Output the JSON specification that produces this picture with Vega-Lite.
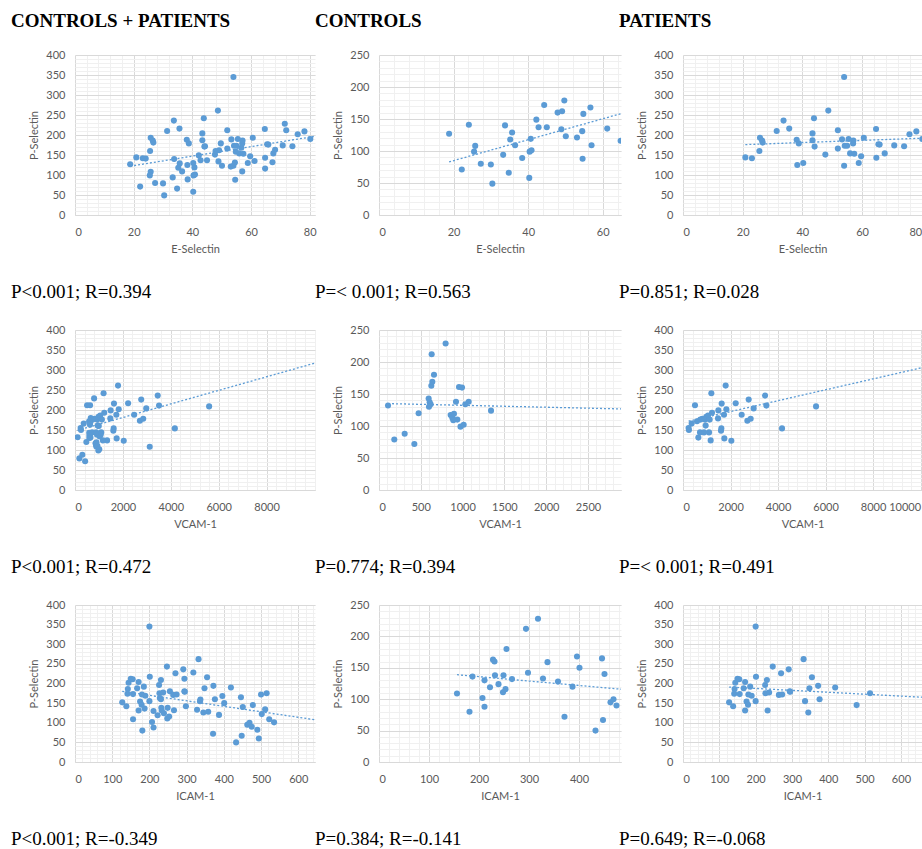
{
"$schema":"https://vega.github.io/schema/vega-lite/v6.json",
"background":"white",
"padding":{"left":11,"top":12,"right":0,"bottom":0},
"datasets":{
"e":[
{"g":"C","x":18.8,"y":127},{"g":"C","x":22.2,"y":71},{"g":"C","x":24.1,"y":141},{"g":"C","x":25.8,"y":108},{"g":"C","x":25.5,"y":99},{"g":"C","x":27.3,"y":80},{"g":"C","x":30.0,"y":79},{"g":"C","x":30.4,"y":49},{"g":"C","x":33.3,"y":94},{"g":"C","x":33.8,"y":140},{"g":"C","x":34.8,"y":66},{"g":"C","x":35.2,"y":118},{"g":"C","x":35.7,"y":129},{"g":"C","x":36.5,"y":109},{"g":"C","x":38.4,"y":89},{"g":"C","x":40.3,"y":58},{"g":"C","x":40.4,"y":99},{"g":"C","x":40.9,"y":101},{"g":"C","x":40.7,"y":119},{"g":"C","x":42.2,"y":149},{"g":"C","x":42.8,"y":137},{"g":"C","x":44.3,"y":172},{"g":"C","x":45.0,"y":137},{"g":"C","x":47.9,"y":160},{"g":"C","x":49.1,"y":162},{"g":"C","x":48.9,"y":134},{"g":"C","x":49.7,"y":179},{"g":"C","x":50.1,"y":123},{"g":"C","x":53.1,"y":121},{"g":"C","x":54.5,"y":131},{"g":"C","x":54.6,"y":88},{"g":"C","x":54.8,"y":158},{"g":"C","x":56.7,"y":168},{"g":"C","x":57.0,"y":109},{"g":"C","x":61.2,"y":135},{"g":"C","x":64.8,"y":116},{"g":"C","x":67.3,"y":132},{"g":"C","x":68.2,"y":163},{"g":"C","x":71.5,"y":228},{"g":"C","x":72.0,"y":212},
{"g":"P","x":20.9,"y":144},{"g":"P","x":23.1,"y":142},{"g":"P","x":25.6,"y":160},{"g":"P","x":25.8,"y":193},{"g":"P","x":26.5,"y":186},{"g":"P","x":26.7,"y":181},{"g":"P","x":31.4,"y":210},{"g":"P","x":33.7,"y":236},{"g":"P","x":35.6,"y":216},{"g":"P","x":38.1,"y":188},{"g":"P","x":38.8,"y":179},{"g":"P","x":38.3,"y":125},{"g":"P","x":40.3,"y":130},{"g":"P","x":43.4,"y":204},{"g":"P","x":43.4,"y":187},{"g":"P","x":43.9,"y":242},{"g":"P","x":44.1,"y":171},{"g":"P","x":47.7,"y":151},{"g":"P","x":48.7,"y":261},{"g":"P","x":51.9,"y":212},{"g":"P","x":51.9,"y":166},{"g":"P","x":53.3,"y":189},{"g":"P","x":54.0,"y":345},{"g":"P","x":54.0,"y":123},{"g":"P","x":54.2,"y":173},{"g":"P","x":55.0,"y":173},{"g":"P","x":55.5,"y":190},{"g":"P","x":56.0,"y":154},{"g":"P","x":57.0,"y":179},{"g":"P","x":57.1,"y":186},{"g":"P","x":57.4,"y":153},{"g":"P","x":58.9,"y":130},{"g":"P","x":59.7,"y":147},{"g":"P","x":60.6,"y":193},{"g":"P","x":64.7,"y":215},{"g":"P","x":64.8,"y":143},{"g":"P","x":65.5,"y":177},{"g":"P","x":65.9,"y":176},{"g":"P","x":67.6,"y":154},{"g":"P","x":70.8,"y":174},{"g":"P","x":74.1,"y":172},{"g":"P","x":75.9,"y":202},{"g":"P","x":78.2,"y":209},{"g":"P","x":80.2,"y":190}
],
"v":[
{"g":"C","x":108,"y":132},{"g":"C","x":183,"y":79},{"g":"C","x":307,"y":88},{"g":"C","x":423,"y":72},{"g":"C","x":474,"y":120},{"g":"C","x":594,"y":143},{"g":"C","x":606,"y":137},{"g":"C","x":618,"y":134},{"g":"C","x":598,"y":130},{"g":"C","x":626,"y":163},{"g":"C","x":638,"y":169},{"g":"C","x":658,"y":180},{"g":"C","x":630,"y":212},{"g":"C","x":797,"y":229},{"g":"C","x":857,"y":117},{"g":"C","x":877,"y":113},{"g":"C","x":889,"y":109},{"g":"C","x":897,"y":119},{"g":"C","x":937,"y":110},{"g":"C","x":921,"y":138},{"g":"C","x":957,"y":161},{"g":"C","x":993,"y":160},{"g":"C","x":975,"y":99},{"g":"C","x":1013,"y":102},{"g":"C","x":1033,"y":134},{"g":"C","x":1073,"y":138},{"g":"C","x":1340,"y":124},{"g":"C","x":3120,"y":108},
{"g":"P","x":235,"y":155},{"g":"P","x":250,"y":150},{"g":"P","x":365,"y":166},{"g":"P","x":505,"y":212},{"g":"P","x":590,"y":172},{"g":"P","x":646,"y":131},{"g":"P","x":716,"y":144},{"g":"P","x":730,"y":176},{"g":"P","x":814,"y":178},{"g":"P","x":884,"y":144},{"g":"P","x":926,"y":176},{"g":"P","x":954,"y":161},{"g":"P","x":982,"y":183},{"g":"P","x":1053,"y":186},{"g":"P","x":1095,"y":144},{"g":"P","x":1123,"y":176},{"g":"P","x":1165,"y":124},{"g":"P","x":1193,"y":242},{"g":"P","x":1221,"y":193},{"g":"P","x":1474,"y":179},{"g":"P","x":1488,"y":199},{"g":"P","x":1600,"y":148},{"g":"P","x":1614,"y":154},{"g":"P","x":1628,"y":216},{"g":"P","x":1726,"y":188},{"g":"P","x":1740,"y":129},{"g":"P","x":1796,"y":261},{"g":"P","x":1825,"y":202},{"g":"P","x":2035,"y":123},{"g":"P","x":2218,"y":217},{"g":"P","x":2470,"y":188},{"g":"P","x":2709,"y":173},{"g":"P","x":2765,"y":226},{"g":"P","x":2849,"y":178},{"g":"P","x":2975,"y":204},{"g":"P","x":3453,"y":236},{"g":"P","x":3509,"y":211},{"g":"P","x":4168,"y":154},{"g":"P","x":5600,"y":209}
],
"i":[
{"g":"C","x":156,"y":109},{"g":"C","x":181,"y":80},{"g":"C","x":187,"y":136},{"g":"C","x":207,"y":102},{"g":"C","x":211,"y":88},{"g":"C","x":211,"y":130},{"g":"C","x":222,"y":119},{"g":"C","x":228,"y":163},{"g":"C","x":231,"y":160},{"g":"C","x":232,"y":138},{"g":"C","x":239,"y":124},{"g":"C","x":248,"y":111},{"g":"C","x":249,"y":138},{"g":"C","x":253,"y":116},{"g":"C","x":255,"y":180},{"g":"C","x":266,"y":132},{"g":"C","x":294,"y":212},{"g":"C","x":298,"y":142},{"g":"C","x":318,"y":228},{"g":"C","x":328,"y":133},{"g":"C","x":337,"y":159},{"g":"C","x":358,"y":128},{"g":"C","x":371,"y":72},{"g":"C","x":387,"y":120},{"g":"C","x":396,"y":168},{"g":"C","x":401,"y":150},{"g":"C","x":433,"y":50},{"g":"C","x":446,"y":165},{"g":"C","x":448,"y":67},{"g":"C","x":451,"y":140},{"g":"C","x":463,"y":95},{"g":"C","x":469,"y":100},{"g":"C","x":475,"y":90},{"g":"C","x":490,"y":82},{"g":"C","x":494,"y":60},{"g":"C","x":500,"y":172},{"g":"C","x":502,"y":122},{"g":"C","x":511,"y":134},{"g":"C","x":522,"y":109},{"g":"C","x":535,"y":101},
{"g":"P","x":127,"y":152},{"g":"P","x":138,"y":142},{"g":"P","x":141,"y":174},{"g":"P","x":142,"y":186},{"g":"P","x":144,"y":202},{"g":"P","x":150,"y":212},{"g":"P","x":155,"y":211},{"g":"P","x":156,"y":173},{"g":"P","x":167,"y":188},{"g":"P","x":171,"y":204},{"g":"P","x":171,"y":131},{"g":"P","x":175,"y":154},{"g":"P","x":179,"y":146},{"g":"P","x":180,"y":172},{"g":"P","x":185,"y":192},{"g":"P","x":189,"y":169},{"g":"P","x":200,"y":345},{"g":"P","x":201,"y":217},{"g":"P","x":200,"y":155},{"g":"P","x":226,"y":196},{"g":"P","x":231,"y":209},{"g":"P","x":227,"y":175},{"g":"P","x":233,"y":131},{"g":"P","x":237,"y":177},{"g":"P","x":247,"y":243},{"g":"P","x":264,"y":171},{"g":"P","x":273,"y":172},{"g":"P","x":270,"y":226},{"g":"P","x":291,"y":236},{"g":"P","x":294,"y":180},{"g":"P","x":295,"y":179},{"g":"P","x":332,"y":262},{"g":"P","x":336,"y":155},{"g":"P","x":345,"y":126},{"g":"P","x":348,"y":188},{"g":"P","x":355,"y":216},{"g":"P","x":372,"y":194},{"g":"P","x":376,"y":160},{"g":"P","x":419,"y":190},{"g":"P","x":478,"y":145},{"g":"P","x":515,"y":175}
],
"t":[
{"p":"e_all","x":18.8,"y":122},{"p":"e_all","x":82,"y":197},
{"p":"e_C","x":18.8,"y":83},{"p":"e_C","x":72,"y":170},
{"p":"e_P","x":20.9,"y":176},{"p":"e_P","x":80.2,"y":192},
{"p":"v_all","x":100,"y":149},{"p":"v_all","x":10000,"y":317},
{"p":"v_C","x":108,"y":135},{"p":"v_C","x":3120,"y":126},
{"p":"v_P","x":235,"y":172},{"p":"v_P","x":10000,"y":305},
{"p":"i_all","x":127,"y":180},{"p":"i_all","x":700,"y":100},
{"p":"i_C","x":156,"y":139},{"p":"i_C","x":540,"y":112},
{"p":"i_P","x":127,"y":191},{"p":"i_P","x":700,"y":163}
]
},
"config":{
"view":{"stroke":null},
"font":"Lato",
"axis":{"labelFont":"Lato","labelFontSize":11,"labelColor":"#595959","titleFont":"Lato","titleFontSize":11,"titleFontWeight":"normal","titleColor":"#595959","ticks":false,"gridColor":"#d9d9d9","gridWidth":1,"domainColor":"#d9d9d9","labelPadding":10},
"axisX":{"labelPadding":11,"titlePadding":6},
"axisY":{"domain":false,"titlePadding":6}
},
"spacing":-2,
"hconcat":[
{
"title":{"text":"CONTROLS + PATIENTS","orient":"top","anchor":"start","frame":"group","dx":-64,"offset":18,"font":"Liberation Serif","fontSize":19,"fontWeight":"bold","color":"#000000"},
"spacing":115,"bounds":"flush",
"vconcat":[
{"width":240,"height":160,
"title":{"text":"P<0.001; R=0.394","orient":"bottom","anchor":"start","frame":"group","dx":-64,"offset":29,"font":"Liberation Serif","fontSize":19,"fontWeight":"normal","color":"#000000"},
"layer":[
{"data":{"name":"e"},"mark":{"type":"point","opacity":0,"clip":true},"encoding":{
"x":{"field":"x","type":"quantitative","scale":{"domain":[0,81.8],"nice":false,"zero":false},"axis":{"orient":"top","values":[0,4,8,12,16,20,24,28,32,36,40,44,48,52,56,60,64,68,72,76,80],"labels":false,"domain":false,"ticks":false,"title":null,"grid":true,"gridColor":"#f0f0f0"}},
"y":{"field":"y","type":"quantitative","scale":{"domain":[0,400],"nice":false},"axis":{"orient":"right","values":[0,10,20,30,40,50,60,70,80,90,100,110,120,130,140,150,160,170,180,190,200,210,220,230,240,250,260,270,280,290,300,310,320,330,340,350,360,370,380,390,400],"labels":false,"domain":false,"ticks":false,"title":null,"grid":true,"gridColor":"#f0f0f0"}}}},
{"data":{"name":"e"},"mark":{"type":"circle","size":37,"color":"#5b9bd5","opacity":1,"clip":true},"encoding":{
"x":{"field":"x","type":"quantitative","scale":{"domain":[0,81.8],"nice":false,"zero":false},"axis":{"orient":"bottom","values":[0,20,40,60,80],"title":"E-Selectin","grid":true}},
"y":{"field":"y","type":"quantitative","scale":{"domain":[0,400],"nice":false},"axis":{"orient":"left","values":[0,50,100,150,200,250,300,350,400],"title":"P-Selectin","grid":true}}}},
{"data":{"name":"t"},"transform":[{"filter":"datum.p==='e_all'"}],"mark":{"type":"line","color":"#5b9bd5","strokeDash":[2,2],"strokeWidth":1.3,"clip":true},"encoding":{
"x":{"field":"x","type":"quantitative","scale":{"domain":[0,81.8],"nice":false,"zero":false},"axis":null},
"y":{"field":"y","type":"quantitative","scale":{"domain":[0,400],"nice":false},"axis":null}}}
]},
{"width":240,"height":160,
"title":{"text":"P<0.001; R=0.472","orient":"bottom","anchor":"start","frame":"group","dx":-64,"offset":29,"font":"Liberation Serif","fontSize":19,"fontWeight":"normal","color":"#000000"},
"layer":[
{"data":{"name":"v"},"mark":{"type":"point","opacity":0,"clip":true},"encoding":{
"x":{"field":"x","type":"quantitative","scale":{"domain":[0,10020],"nice":false,"zero":false},"axis":{"orient":"top","values":[0,400,800,1200,1600,2000,2400,2800,3200,3600,4000,4400,4800,5200,5600,6000,6400,6800,7200,7600,8000,8400,8800,9200,9600,10000],"labels":false,"domain":false,"ticks":false,"title":null,"grid":true,"gridColor":"#f0f0f0"}},
"y":{"field":"y","type":"quantitative","scale":{"domain":[0,400],"nice":false},"axis":{"orient":"right","values":[0,10,20,30,40,50,60,70,80,90,100,110,120,130,140,150,160,170,180,190,200,210,220,230,240,250,260,270,280,290,300,310,320,330,340,350,360,370,380,390,400],"labels":false,"domain":false,"ticks":false,"title":null,"grid":true,"gridColor":"#f0f0f0"}}}},
{"data":{"name":"v"},"mark":{"type":"circle","size":37,"color":"#5b9bd5","opacity":1,"clip":true},"encoding":{
"x":{"field":"x","type":"quantitative","scale":{"domain":[0,10020],"nice":false,"zero":false},"axis":{"orient":"bottom","values":[0,2000,4000,6000,8000],"title":"VCAM-1","grid":true,"format":"d"}},
"y":{"field":"y","type":"quantitative","scale":{"domain":[0,400],"nice":false},"axis":{"orient":"left","values":[0,50,100,150,200,250,300,350,400],"title":"P-Selectin","grid":true}}}},
{"data":{"name":"t"},"transform":[{"filter":"datum.p==='v_all'"}],"mark":{"type":"line","color":"#5b9bd5","strokeDash":[2,2],"strokeWidth":1.3,"clip":true},"encoding":{
"x":{"field":"x","type":"quantitative","scale":{"domain":[0,10020],"nice":false,"zero":false},"axis":null},
"y":{"field":"y","type":"quantitative","scale":{"domain":[0,400],"nice":false},"axis":null}}}
]},
{"width":240,"height":157,
"title":{"text":"P<0.001; R=-0.349","orient":"bottom","anchor":"start","frame":"group","dx":-64,"offset":29,"font":"Liberation Serif","fontSize":19,"fontWeight":"normal","color":"#000000"},
"layer":[
{"data":{"name":"i"},"mark":{"type":"point","opacity":0,"clip":true},"encoding":{
"x":{"field":"x","type":"quantitative","scale":{"domain":[0,645],"nice":false,"zero":false},"axis":{"orient":"top","values":[0,20,40,60,80,100,120,140,160,180,200,220,240,260,280,300,320,340,360,380,400,420,440,460,480,500,520,540,560,580,600,620,640],"labels":false,"domain":false,"ticks":false,"title":null,"grid":true,"gridColor":"#f0f0f0"}},
"y":{"field":"y","type":"quantitative","scale":{"domain":[0,400],"nice":false},"axis":{"orient":"right","values":[0,10,20,30,40,50,60,70,80,90,100,110,120,130,140,150,160,170,180,190,200,210,220,230,240,250,260,270,280,290,300,310,320,330,340,350,360,370,380,390,400],"labels":false,"domain":false,"ticks":false,"title":null,"grid":true,"gridColor":"#f0f0f0"}}}},
{"data":{"name":"i"},"mark":{"type":"circle","size":37,"color":"#5b9bd5","opacity":1,"clip":true},"encoding":{
"x":{"field":"x","type":"quantitative","scale":{"domain":[0,645],"nice":false,"zero":false},"axis":{"orient":"bottom","values":[0,100,200,300,400,500,600],"title":"ICAM-1","grid":true}},
"y":{"field":"y","type":"quantitative","scale":{"domain":[0,400],"nice":false},"axis":{"orient":"left","values":[0,50,100,150,200,250,300,350,400],"title":"P-Selectin","grid":true}}}},
{"data":{"name":"t"},"transform":[{"filter":"datum.p==='i_all'"}],"mark":{"type":"line","color":"#5b9bd5","strokeDash":[2,2],"strokeWidth":1.3,"clip":true},"encoding":{
"x":{"field":"x","type":"quantitative","scale":{"domain":[0,645],"nice":false,"zero":false},"axis":null},
"y":{"field":"y","type":"quantitative","scale":{"domain":[0,400],"nice":false},"axis":null}}}
]}
]},
{
"title":{"text":"CONTROLS","orient":"top","anchor":"start","frame":"group","dx":-64,"offset":18,"font":"Liberation Serif","fontSize":19,"fontWeight":"bold","color":"#000000"},
"spacing":115,"bounds":"flush",
"vconcat":[
{"width":242,"height":160,
"title":{"text":"P=< 0.001; R=0.563","orient":"bottom","anchor":"start","frame":"group","dx":-64,"offset":29,"font":"Liberation Serif","fontSize":19,"fontWeight":"normal","color":"#000000"},
"layer":[
{"data":{"name":"e"},"transform":[{"filter":"datum.g==='C'"}],"mark":{"type":"point","opacity":0,"clip":true},"encoding":{
"x":{"field":"x","type":"quantitative","scale":{"domain":[0,64.9],"nice":false,"zero":false},"axis":{"orient":"top","values":[0,4,8,12,16,20,24,28,32,36,40,44,48,52,56,60,64],"labels":false,"domain":false,"ticks":false,"title":null,"grid":true,"gridColor":"#f0f0f0"}},
"y":{"field":"y","type":"quantitative","scale":{"domain":[0,250],"nice":false},"axis":{"orient":"right","values":[0,10,20,30,40,50,60,70,80,90,100,110,120,130,140,150,160,170,180,190,200,210,220,230,240,250],"labels":false,"domain":false,"ticks":false,"title":null,"grid":true,"gridColor":"#f0f0f0"}}}},
{"data":{"name":"e"},"transform":[{"filter":"datum.g==='C'"}],"mark":{"type":"circle","size":37,"color":"#5b9bd5","opacity":1,"clip":true},"encoding":{
"x":{"field":"x","type":"quantitative","scale":{"domain":[0,64.9],"nice":false,"zero":false},"axis":{"orient":"bottom","values":[0,20,40,60],"title":"E-Selectin","grid":true}},
"y":{"field":"y","type":"quantitative","scale":{"domain":[0,250],"nice":false},"axis":{"orient":"left","values":[0,50,100,150,200,250],"title":"P-Selectin","grid":true}}}},
{"data":{"name":"t"},"transform":[{"filter":"datum.p==='e_C'"}],"mark":{"type":"line","color":"#5b9bd5","strokeDash":[2,2],"strokeWidth":1.3,"clip":true},"encoding":{
"x":{"field":"x","type":"quantitative","scale":{"domain":[0,64.9],"nice":false,"zero":false},"axis":null},
"y":{"field":"y","type":"quantitative","scale":{"domain":[0,250],"nice":false},"axis":null}}}
]},
{"width":242,"height":160,
"title":{"text":"P=0.774; R=0.394","orient":"bottom","anchor":"start","frame":"group","dx":-64,"offset":29,"font":"Liberation Serif","fontSize":19,"fontWeight":"normal","color":"#000000"},
"layer":[
{"data":{"name":"v"},"transform":[{"filter":"datum.g==='C'"}],"mark":{"type":"point","opacity":0,"clip":true},"encoding":{
"x":{"field":"x","type":"quantitative","scale":{"domain":[0,2895],"nice":false,"zero":false},"axis":{"orient":"top","values":[0,100,200,300,400,500,600,700,800,900,1000,1100,1200,1300,1400,1500,1600,1700,1800,1900,2000,2100,2200,2300,2400,2500,2600,2700,2800],"labels":false,"domain":false,"ticks":false,"title":null,"grid":true,"gridColor":"#f0f0f0"}},
"y":{"field":"y","type":"quantitative","scale":{"domain":[0,250],"nice":false},"axis":{"orient":"right","values":[0,10,20,30,40,50,60,70,80,90,100,110,120,130,140,150,160,170,180,190,200,210,220,230,240,250],"labels":false,"domain":false,"ticks":false,"title":null,"grid":true,"gridColor":"#f0f0f0"}}}},
{"data":{"name":"v"},"transform":[{"filter":"datum.g==='C'"}],"mark":{"type":"circle","size":37,"color":"#5b9bd5","opacity":1,"clip":true},"encoding":{
"x":{"field":"x","type":"quantitative","scale":{"domain":[0,2895],"nice":false,"zero":false},"axis":{"orient":"bottom","values":[0,500,1000,1500,2000,2500],"title":"VCAM-1","grid":true,"format":"d"}},
"y":{"field":"y","type":"quantitative","scale":{"domain":[0,250],"nice":false},"axis":{"orient":"left","values":[0,50,100,150,200,250],"title":"P-Selectin","grid":true}}}},
{"data":{"name":"t"},"transform":[{"filter":"datum.p==='v_C'"}],"mark":{"type":"line","color":"#5b9bd5","strokeDash":[2,2],"strokeWidth":1.3,"clip":true},"encoding":{
"x":{"field":"x","type":"quantitative","scale":{"domain":[0,2895],"nice":false,"zero":false},"axis":null},
"y":{"field":"y","type":"quantitative","scale":{"domain":[0,250],"nice":false},"axis":null}}}
]},
{"width":242,"height":157,
"title":{"text":"P=0.384; R=-0.141","orient":"bottom","anchor":"start","frame":"group","dx":-64,"offset":29,"font":"Liberation Serif","fontSize":19,"fontWeight":"normal","color":"#000000"},
"layer":[
{"data":{"name":"i"},"transform":[{"filter":"datum.g==='C'"}],"mark":{"type":"point","opacity":0,"clip":true},"encoding":{
"x":{"field":"x","type":"quantitative","scale":{"domain":[0,484],"nice":false,"zero":false},"axis":{"orient":"top","values":[0,20,40,60,80,100,120,140,160,180,200,220,240,260,280,300,320,340,360,380,400,420,440,460,480],"labels":false,"domain":false,"ticks":false,"title":null,"grid":true,"gridColor":"#f0f0f0"}},
"y":{"field":"y","type":"quantitative","scale":{"domain":[0,250],"nice":false},"axis":{"orient":"right","values":[0,10,20,30,40,50,60,70,80,90,100,110,120,130,140,150,160,170,180,190,200,210,220,230,240,250],"labels":false,"domain":false,"ticks":false,"title":null,"grid":true,"gridColor":"#f0f0f0"}}}},
{"data":{"name":"i"},"transform":[{"filter":"datum.g==='C'"}],"mark":{"type":"circle","size":37,"color":"#5b9bd5","opacity":1,"clip":true},"encoding":{
"x":{"field":"x","type":"quantitative","scale":{"domain":[0,484],"nice":false,"zero":false},"axis":{"orient":"bottom","values":[0,100,200,300,400],"title":"ICAM-1","grid":true}},
"y":{"field":"y","type":"quantitative","scale":{"domain":[0,250],"nice":false},"axis":{"orient":"left","values":[0,50,100,150,200,250],"title":"P-Selectin","grid":true}}}},
{"data":{"name":"t"},"transform":[{"filter":"datum.p==='i_C'"}],"mark":{"type":"line","color":"#5b9bd5","strokeDash":[2,2],"strokeWidth":1.3,"clip":true},"encoding":{
"x":{"field":"x","type":"quantitative","scale":{"domain":[0,484],"nice":false,"zero":false},"axis":null},
"y":{"field":"y","type":"quantitative","scale":{"domain":[0,250],"nice":false},"axis":null}}}
]}
]},
{
"title":{"text":"PATIENTS","orient":"top","anchor":"start","frame":"group","dx":-64,"offset":18,"font":"Liberation Serif","fontSize":19,"fontWeight":"bold","color":"#000000"},
"spacing":115,"bounds":"flush",
"vconcat":[
{"width":239,"height":160,
"title":{"text":"P=0.851; R=0.028","orient":"bottom","anchor":"start","frame":"group","dx":-64,"offset":29,"font":"Liberation Serif","fontSize":19,"fontWeight":"normal","color":"#000000"},
"layer":[
{"data":{"name":"e"},"transform":[{"filter":"datum.g==='P'"}],"mark":{"type":"point","opacity":0,"clip":true},"encoding":{
"x":{"field":"x","type":"quantitative","scale":{"domain":[0,80.1],"nice":false,"zero":false},"axis":{"orient":"top","values":[0,4,8,12,16,20,24,28,32,36,40,44,48,52,56,60,64,68,72,76,80],"labels":false,"domain":false,"ticks":false,"title":null,"grid":true,"gridColor":"#f0f0f0"}},
"y":{"field":"y","type":"quantitative","scale":{"domain":[0,400],"nice":false},"axis":{"orient":"right","values":[0,10,20,30,40,50,60,70,80,90,100,110,120,130,140,150,160,170,180,190,200,210,220,230,240,250,260,270,280,290,300,310,320,330,340,350,360,370,380,390,400],"labels":false,"domain":false,"ticks":false,"title":null,"grid":true,"gridColor":"#f0f0f0"}}}},
{"data":{"name":"e"},"transform":[{"filter":"datum.g==='P'"}],"mark":{"type":"circle","size":37,"color":"#5b9bd5","opacity":1,"clip":true},"encoding":{
"x":{"field":"x","type":"quantitative","scale":{"domain":[0,80.1],"nice":false,"zero":false},"axis":{"orient":"bottom","values":[0,20,40,60,80],"title":"E-Selectin","grid":true,"labelFlush":5}},
"y":{"field":"y","type":"quantitative","scale":{"domain":[0,400],"nice":false},"axis":{"orient":"left","values":[0,50,100,150,200,250,300,350,400],"title":"P-Selectin","grid":true}}}},
{"data":{"name":"t"},"transform":[{"filter":"datum.p==='e_P'"}],"mark":{"type":"line","color":"#5b9bd5","strokeDash":[2,2],"strokeWidth":1.3,"clip":true},"encoding":{
"x":{"field":"x","type":"quantitative","scale":{"domain":[0,80.1],"nice":false,"zero":false},"axis":null},
"y":{"field":"y","type":"quantitative","scale":{"domain":[0,400],"nice":false},"axis":null}}}
]},
{"width":239,"height":160,
"title":{"text":"P=< 0.001; R=0.491","orient":"bottom","anchor":"start","frame":"group","dx":-64,"offset":29,"font":"Liberation Serif","fontSize":19,"fontWeight":"normal","color":"#000000"},
"layer":[
{"data":{"name":"v"},"transform":[{"filter":"datum.g==='P'"}],"mark":{"type":"point","opacity":0,"clip":true},"encoding":{
"x":{"field":"x","type":"quantitative","scale":{"domain":[0,10060],"nice":false,"zero":false},"axis":{"orient":"top","values":[0,400,800,1200,1600,2000,2400,2800,3200,3600,4000,4400,4800,5200,5600,6000,6400,6800,7200,7600,8000,8400,8800,9200,9600,10000],"labels":false,"domain":false,"ticks":false,"title":null,"grid":true,"gridColor":"#f0f0f0"}},
"y":{"field":"y","type":"quantitative","scale":{"domain":[0,400],"nice":false},"axis":{"orient":"right","values":[0,10,20,30,40,50,60,70,80,90,100,110,120,130,140,150,160,170,180,190,200,210,220,230,240,250,260,270,280,290,300,310,320,330,340,350,360,370,380,390,400],"labels":false,"domain":false,"ticks":false,"title":null,"grid":true,"gridColor":"#f0f0f0"}}}},
{"data":{"name":"v"},"transform":[{"filter":"datum.g==='P'"}],"mark":{"type":"circle","size":37,"color":"#5b9bd5","opacity":1,"clip":true},"encoding":{
"x":{"field":"x","type":"quantitative","scale":{"domain":[0,10060],"nice":false,"zero":false},"axis":{"orient":"bottom","values":[0,2000,4000,6000,8000,10000],"title":"VCAM-1","grid":true,"format":"d","labelFlush":5}},
"y":{"field":"y","type":"quantitative","scale":{"domain":[0,400],"nice":false},"axis":{"orient":"left","values":[0,50,100,150,200,250,300,350,400],"title":"P-Selectin","grid":true}}}},
{"data":{"name":"t"},"transform":[{"filter":"datum.p==='v_P'"}],"mark":{"type":"line","color":"#5b9bd5","strokeDash":[2,2],"strokeWidth":1.3,"clip":true},"encoding":{
"x":{"field":"x","type":"quantitative","scale":{"domain":[0,10060],"nice":false,"zero":false},"axis":null},
"y":{"field":"y","type":"quantitative","scale":{"domain":[0,400],"nice":false},"axis":null}}}
]},
{"width":239,"height":157,
"title":{"text":"P=0.649; R=-0.068","orient":"bottom","anchor":"start","frame":"group","dx":-64,"offset":29,"font":"Liberation Serif","fontSize":19,"fontWeight":"normal","color":"#000000"},
"layer":[
{"data":{"name":"i"},"transform":[{"filter":"datum.g==='P'"}],"mark":{"type":"point","opacity":0,"clip":true},"encoding":{
"x":{"field":"x","type":"quantitative","scale":{"domain":[0,658],"nice":false,"zero":false},"axis":{"orient":"top","values":[0,20,40,60,80,100,120,140,160,180,200,220,240,260,280,300,320,340,360,380,400,420,440,460,480,500,520,540,560,580,600,620,640],"labels":false,"domain":false,"ticks":false,"title":null,"grid":true,"gridColor":"#f0f0f0"}},
"y":{"field":"y","type":"quantitative","scale":{"domain":[0,400],"nice":false},"axis":{"orient":"right","values":[0,10,20,30,40,50,60,70,80,90,100,110,120,130,140,150,160,170,180,190,200,210,220,230,240,250,260,270,280,290,300,310,320,330,340,350,360,370,380,390,400],"labels":false,"domain":false,"ticks":false,"title":null,"grid":true,"gridColor":"#f0f0f0"}}}},
{"data":{"name":"i"},"transform":[{"filter":"datum.g==='P'"}],"mark":{"type":"circle","size":37,"color":"#5b9bd5","opacity":1,"clip":true},"encoding":{
"x":{"field":"x","type":"quantitative","scale":{"domain":[0,658],"nice":false,"zero":false},"axis":{"orient":"bottom","values":[0,100,200,300,400,500,600],"title":"ICAM-1","grid":true}},
"y":{"field":"y","type":"quantitative","scale":{"domain":[0,400],"nice":false},"axis":{"orient":"left","values":[0,50,100,150,200,250,300,350,400],"title":"P-Selectin","grid":true}}}},
{"data":{"name":"t"},"transform":[{"filter":"datum.p==='i_P'"}],"mark":{"type":"line","color":"#5b9bd5","strokeDash":[2,2],"strokeWidth":1.3,"clip":true},"encoding":{
"x":{"field":"x","type":"quantitative","scale":{"domain":[0,658],"nice":false,"zero":false},"axis":null},
"y":{"field":"y","type":"quantitative","scale":{"domain":[0,400],"nice":false},"axis":null}}}
]}
]}
]
}
